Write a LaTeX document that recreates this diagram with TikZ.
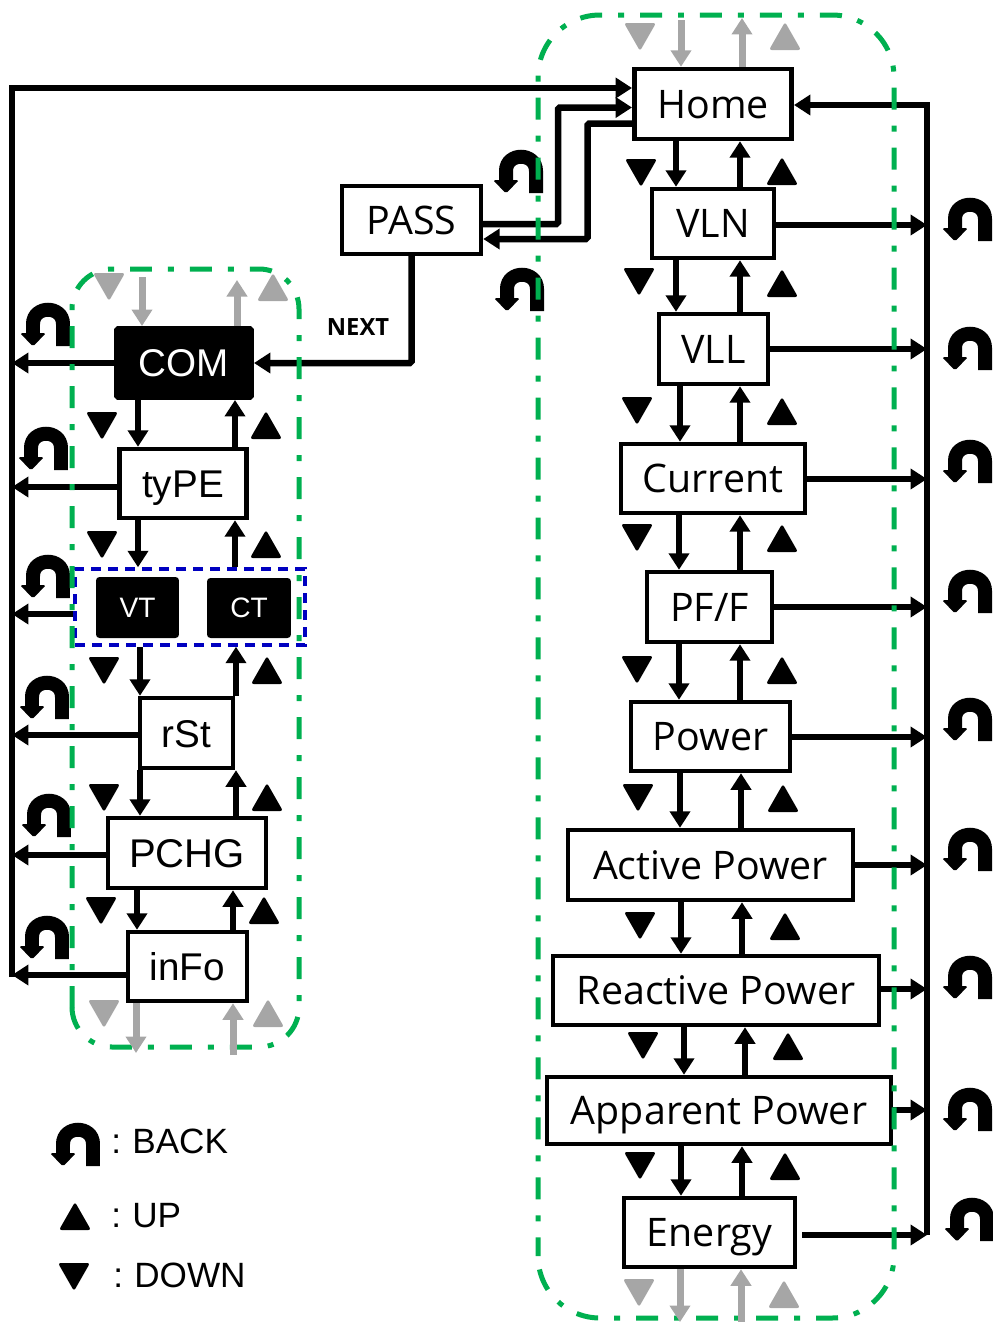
\documentclass[tikz,border=0pt]{standalone}
\usepackage{fontspec}
\setmainfont{Liberation Sans}
\newfontfamily\segoe{Open Sans}
\usetikzlibrary{arrows.meta}
\definecolor{markgreen}{HTML}{00B050}
\definecolor{markgray}{HTML}{A6A6A6}
\definecolor{markblue}{HTML}{0000C0}
\tikzset{
	box/.style={draw,fill=white,line width=.09cm,inner sep=0pt,text height=16pt,text depth=0pt,font=\segoe\fontsize{22.4}{23}\selectfont},
	arialbox/.style={box,font=\fontsize{22}{22}\selectfont},
	darkbox/.style={draw,fill=black,text=white,line width=.09cm,rounded corners=1pt,inner sep=0pt,font=\fontsize{22}{22}\selectfont},
	smalldark/.style={fill=black,text=white,rounded corners=2pt,inner sep=0pt,font=\fontsize{16}{16}\selectfont},
	legend/.style={anchor=west,inner sep=0pt,font=\fontsize{20}{20}\selectfont},
	flow/.style={line width=.105cm,-{Triangle[length=.33cm,width=.4cm]}},
	hflow/.style={flow,line width=.13cm},
	graystep/.style={flow,line width=.14cm,markgray},
	zone/.style={draw=markgreen,line width=.1cm,dash pattern=on .44cm off .32cm on .12cm off .32cm},
	pics/downsym/.style={code={\fill[#1,rounded corners=1.5pt] (-16,-14) -- (16,-14) -- (0,14) -- cycle;}},
	pics/downsym/.default=black,
	pics/upsym/.style={code={\fill[#1,rounded corners=1.5pt] (-16,14) -- (16,14) -- (0,-14) -- cycle;}},
	pics/upsym/.default=black,
	pics/backsym/.style={code={
		\draw[line width=.28cm] (18,21) -- (18,-1) .. controls (18,-20) and (-12,-20) .. (-12,-1) -- (-12,10);
		\fill[rounded corners=1pt] (-25,8) -- (1,8) -- (-12,21.5) -- cycle;
	}},
}
\begin{document}
\begin{tikzpicture}[x=.02cm,y=-.02cm]
	\useasboundingbox (0,0) rectangle (993,1322);

	\node[box,minimum width=3.15cm,minimum height=1.4cm] (home) at (713,104) {Home};
	\node[box,minimum width=2.44cm,minimum height=1.38cm] (vln) at (713,223.5) {VLN};
	\node[box,minimum width=2.18cm,minimum height=1.4cm] (vll) at (713.5,349) {VLL};
	\node[box,minimum width=3.68cm,minimum height=1.38cm] (current) at (713,478.5) {Current};
	\node[box,minimum width=2.5cm,minimum height=1.4cm] (pff) at (709.5,607) {PF/F};
	\node[box,minimum width=3.18cm,minimum height=1.38cm] (power) at (710.5,736.5) {Power};
	\node[box,minimum width=5.7cm,minimum height=1.4cm] (active) at (710.5,865) {Active Power};
	\node[box,minimum width=6.52cm,minimum height=1.38cm] (reactive) at (716,990.5) {Reactive Power};
	\node[box,minimum width=6.88cm,minimum height=1.34cm] (apparent) at (719,1110.5) {Apparent Power};
	\node[box,minimum width=3.42cm,minimum height=1.38cm] (energy) at (709.5,1232.5) {Energy};
	\node[box,minimum width=2.78cm,minimum height=1.36cm] (pass) at (411.5,220) {PASS};

	\node[darkbox,minimum width=2.71cm,minimum height=1.39cm] (com) at (184,363) {COM};
	\node[arialbox,minimum width=2.54cm,minimum height=1.38cm] (type) at (183,483.5) {tyPE};
	\node[draw=markblue,line width=.07cm,dash pattern=on .2cm off .14cm,minimum width=4.6cm,minimum height=1.52cm] (vtct) at (190,607) {};
	\node[smalldark,minimum width=1.66cm,minimum height=1.22cm] (vt) at (137.5,607.5) {VT};
	\node[smalldark,minimum width=1.68cm,minimum height=1.2cm] (ct) at (249,608) {CT};
	\node[arialbox,minimum width=1.86cm,minimum height=1.4cm] (rst) at (186.5,733) {rSt};
	\node[arialbox,font=\fontsize{22.8}{23}\selectfont,minimum width=3.16cm,minimum height=1.4cm] (pchg) at (187,853) {PCHG};
	\node[arialbox,minimum width=2.38cm,minimum height=1.38cm] (info) at (187.5,966.5) {inFo};

	\node[inner sep=0pt,font=\segoe\bfseries\fontsize{13.5}{13.5}\selectfont] (next) at (358,327) {NEXT};

	\coordinate (rbustop) at (927,105);
	\coordinate (rbusend) at (927,1235);
	\coordinate (lbustop) at (12,88);
	\coordinate (lbusend) at (12,977);

	\foreach \a/\b/\xd/\xu in {home/vln/676/740,vln/vll/676/740,vll/current/680/740,current/pff/679/740,pff/power/679/740,power/active/680/741,active/reactive/681/742,reactive/apparent/684/745,apparent/energy/681/742,com/type/138/235,type/vtct/138/235,vtct/rst/140/236,rst/pchg/140/236,pchg/info/137/233}{
		\draw[flow] (\a.south -| \xd,0) -- (\b.north -| \xd,0);
		\draw[flow] (\b.north -| \xu,0) -- (\a.south -| \xu,0);
	}

	\draw[hflow] (rbusend) -- (rbustop) -- (rbustop -| home.east);
	\foreach \a/\y in {vln/225,vll/349,current/479,pff/607,power/737,active/865,reactive/989,apparent/1110}
		\draw[hflow] (\a.east |- 0,\y) -- (rbustop |- 0,\y);
	\draw[hflow] ([xshift=.1cm]energy.east |- rbusend) -- (rbusend);

	\draw[hflow] (lbusend) -- (lbustop) -- (lbustop -| home.west);
	\foreach \a/\y in {com/363,type/487,vtct/614,rst/735,pchg/855,info/975}
		\draw[hflow] (\a.west |- 0,\y) -- (lbustop |- 0,\y);

	\draw[hflow,rounded corners=1pt] (pass.east |- 0,224) -- (558,224) -- (558,107.5) -- (home.west |- 0,107.5);
	\draw[hflow,rounded corners=1pt] (home.west |- 0,123.5) -- (587.5,123.5) -- (587.5,239) -- (pass.east |- 0,239);
	\draw[hflow,rounded corners=1pt] (pass.south) |- (com.east);

	\foreach \x/\y in {518/172,519/290,967/220,967/349,967/462,967/592,967/720,967/850,967/978,967/1110,969/1220,45/325,43/449,45/577,44/698,46/816,44/938,75/1145}
		\pic at (\x,\y) {backsym};

	\draw[zone,rounded corners=.8cm] (130,269) -- (299,269) -- (299,1047) -- (72,1047) -- (72,1007);
	\draw[zone,rounded corners=.8cm,dash phase=.44cm] (130,269) -- (72,269) -- (72,1010);
	\draw[zone,rounded corners=1.24cm] (640,15) -- (894,15) -- (894,1318) -- (538,1318) -- (538,1256);
	\draw[zone,rounded corners=1.24cm,dash phase=.44cm] (640,15) -- (538,15) -- (538,1256);

	\foreach \x/\y in {641/173,639/282,637/411,637/538,637/670,638/798,640/926,643/1046,640/1166,102/426,102/545,104/671,104/798,101/911,74/1277}
		\pic at (\x,\y) {downsym};
	\foreach \x/\y in {782/171,782/283,782/411,782/538,782/670,783/798,785/926,788/1046,785/1166,266/425,266/544,267/670,267/797,264/910,75/1216}
		\pic at (\x,\y) {upsym};
	\foreach \x/\y in {640/37,639/1293,109/287,104/1014}
		\pic at (\x,\y) {downsym=markgray};
	\foreach \x/\y in {785/36,784/1294,273/287,268/1013}
		\pic at (\x,\y) {upsym=markgray};

	\coordinate (homein) at (681,20);
	\coordinate (homeout) at (742,18);
	\coordinate (energyout) at (680,1322);
	\coordinate (energyin) at (741,1322);
	\coordinate (comin) at (142,277);
	\coordinate (comout) at (237,280);
	\coordinate (infoout) at (136,1053);
	\coordinate (infoin) at (233,1055);
	\draw[graystep] (homein) -- (homein |- home.north);
	\draw[graystep] (homeout |- home.north) -- (homeout);
	\draw[graystep] (energyout |- energy.south) -- (energyout);
	\draw[graystep] (energyin) -- (energyin |- energy.south);
	\draw[graystep] (comin) -- (comin |- com.north);
	\draw[graystep] (comout |- com.north) -- (comout);
	\draw[graystep] (infoout |- info.south) -- (infoout);
	\draw[graystep] (infoin) -- (infoin |- info.south);

	\node[legend] (backtxt) at (111,1141) {\makebox[.42cm][l]{:}BACK};
	\node[legend] (uptxt) at (111,1216) {\makebox[.42cm][l]{:}UP};
	\node[legend] (downtxt) at (113,1275) {\makebox[.42cm][l]{:}DOWN};
\end{tikzpicture}
\end{document}
